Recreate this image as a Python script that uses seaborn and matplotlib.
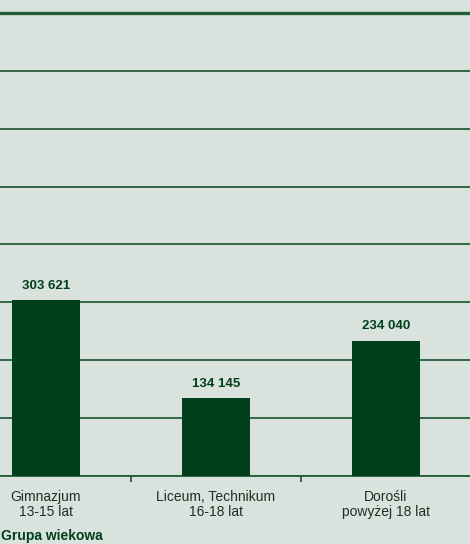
import seaborn as sns
import matplotlib.pyplot as plt
import pandas as pd

# data
groups = ['Gimnazjum\n13-15 lat', 'Liceum, Technikum\n16-18 lat', 'Dorośli\npowyżej 18 lat']
values = [303621, 134145, 234040]
value_labels = ['303 621', '134 145', '234 040']

bg = '#d9e2dc'
dark = '#003f1b'
grid = '#235e38'

sns.set_style('white')
plt.rcParams['font.family'] = ['Liberation Sans', 'DejaVu Sans']

df = pd.DataFrame({'grupa': groups, 'liczba': values})

fig = plt.figure(figsize=(4.70, 5.44), dpi=100)
fig.patch.set_facecolor(bg)
# axes reaches past the left edge, as in the cropped original
ax = fig.add_axes([-39/470, 68/544, 510/470, 463/544])
ax.set_facecolor(bg)

sns.barplot(data=df, x='grupa', y='liczba', color=dark, saturation=1, width=0.405,
            linewidth=0, ax=ax, zorder=3)

ax.set_ylim(0, 800000)
ax.set_yticks(range(0, 800001, 100000))
ax.set_yticklabels([])
ax.yaxis.grid(True, color=grid, lw=1.3, zorder=0)
ax.set_xlim(-0.5, 2.5)
for s in ['left', 'right', 'top']:
    ax.spines[s].set_visible(False)
ax.spines['bottom'].set_color(grid)
ax.spines['bottom'].set_linewidth(1.3)
ax.axhline(800000, color=grid, lw=2.4, zorder=1, clip_on=False)

ax.set_xticks([0, 1, 2])
ax.set_xticklabels(groups, fontsize=10, color='#1f2f25', linespacing=1.1)
ax.tick_params(axis='x', which='major', length=0, pad=10)
ax.set_xticks([0.5, 1.5], minor=True)
ax.tick_params(axis='x', which='minor', bottom=True, length=4, width=1.3, color=grid)
ax.tick_params(axis='y', length=0)
ax.set_xlabel('')
ax.set_ylabel('')

for i, (v, t) in enumerate(zip(values, value_labels)):
    ax.annotate(t, (i, v), xytext=(0, 6), textcoords='offset points',
                ha='center', va='bottom', fontsize=9.5, fontweight='bold', color=dark)

fig.text(1/470, 1 - 536/544, 'Grupa wiekowa', fontsize=10, fontweight='bold',
         color=dark, ha='left', va='center')

fig.savefig('out.png', dpi=100, facecolor=bg)
